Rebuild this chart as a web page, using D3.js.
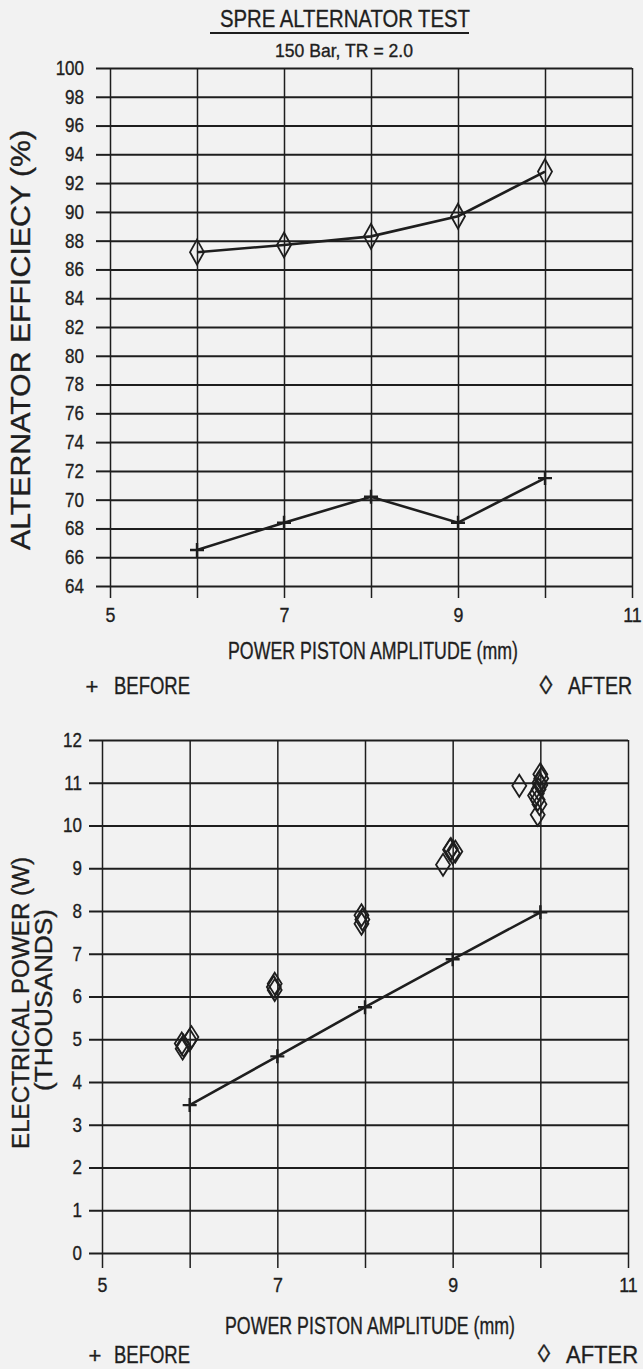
<!DOCTYPE html>
<html><head><meta charset="utf-8">
<script src="https://cdn.jsdelivr.net/npm/d3@7"></script>
<style>
html,body{margin:0;padding:0;background:#f2f2f2;}
svg{display:block;}
text{font-family:"Liberation Sans",Arial,Helvetica,sans-serif;fill:#1e1e1e;stroke:#1e1e1e;stroke-width:0.35;}
</style></head><body>
<svg id="c" width="643" height="1369"></svg>
<script>
// ---------- data ----------
const titleText = "SPRE ALTERNATOR TEST";
const subtitleText = "150 Bar, TR = 2.0";
const xTicks = [5, 6, 7, 8, 9, 10, 11];
const xTickLabels = [5, 7, 9, 11];
const effTicks = [64,66,68,70,72,74,76,78,80,82,84,86,88,90,92,94,96,98,100];
const powTicks = [0,1,2,3,4,5,6,7,8,9,10,11,12];

const effAmp = [6, 7, 8, 9, 10];
const effBefore = [66.5, 68.4, 70.2, 68.4, 71.5];
const effAfter = [87.2, 87.7, 88.3, 89.7, 92.8];

const powBeforeAmp = [6, 7, 8, 9, 10];
const powBefore = [3.46, 4.6, 5.75, 6.87, 7.97];

const powAfterAmp = [5.92, 5.93, 5.91, 6.02, 6.0,
                     6.97, 6.97, 6.96,
                     7.96, 7.97, 7.96,
                     8.97, 9.03, 8.89, 9.0, 8.98,
                     10.0, 10.01, 9.99, 10.0, 9.98, 9.96, 9.94, 9.97, 9.99, 9.97, 9.76];
const powAfter =    [4.78, 4.85, 4.9, 5.05, 4.98,
                     6.15, 6.3, 6.22,
                     7.7, 7.8, 7.9,
                     9.43, 9.39, 9.08, 9.35, 9.45,
                     11.2, 11.1, 11.0, 10.95, 10.85, 10.75, 10.7, 10.6, 10.5, 10.25, 10.93];

// ---------- helpers ----------
const svg = d3.select("#c");
const INK = "#1e1e1e";
const NARROW = 0.85;

function ntext(parent, x, y, str, opts) {
  opts = opts || {};
  const t = parent.append("text")
    .attr("x", x).attr("y", y)
    .attr("text-anchor", opts.anchor || "middle")
    .attr("font-size", opts.size || 22)
    .text(str);
  if (opts.len) t.attr("textLength", opts.len).attr("lengthAdjust", "spacingAndGlyphs");
  if (opts.rotate) t.attr("transform", `rotate(${opts.rotate},${x},${y})`);
  return t;
}
function narrowTicks(g) {
  g.selectAll(".tick text").each(function () {
    const t = d3.select(this);
    const x = +t.attr("x") || 0;
    t.attr("x", x / NARROW).attr("transform", `scale(${NARROW},1)`);
  });
}
function diamondPath(w, h) {
  return `M0,${-h}L${w},0L0,${h}L${-w},0Z`;
}
function plusPath(a) {
  return `M${-a},0H${a}M0,${-a}V${a}`;
}

function chart(cfg) {
  const x = d3.scaleLinear().domain([5, 11]).range([cfg.left, cfg.right]);
  const y = d3.scaleLinear().domain(cfg.yDomain).range([cfg.bottom, cfg.top]);
  const W = cfg.right - cfg.left, H = cfg.bottom - cfg.top;
  const g = svg.append("g");

  const gy = g.append("g").attr("transform", `translate(${cfg.left},0)`)
    .call(d3.axisLeft(y).tickValues(cfg.yTicks).tickSize(cfg.yTickOut).tickPadding(cfg.yPad).tickSizeOuter(0));
  gy.select(".domain").remove();
  gy.selectAll(".tick line").attr("stroke", INK).attr("stroke-width", 2);
  gy.selectAll(".tick text").attr("font-size", 20).attr("fill", INK)
    .attr("font-family", '"Liberation Sans",Arial,sans-serif');
  narrowTicks(gy);
  const gyg = g.append("g").attr("transform", `translate(${cfg.left},0)`)
    .call(d3.axisLeft(y).tickValues(cfg.yTicks).tickSize(-W).tickFormat(""));
  gyg.select(".domain").remove();
  gyg.selectAll(".tick line").attr("stroke", INK).attr("stroke-width", 2);

  const gx = g.append("g").attr("transform", `translate(0,${cfg.bottom})`)
    .call(d3.axisBottom(x).tickValues(xTicks).tickSize(cfg.xTickOut).tickPadding(cfg.xPad)
      .tickFormat(d => xTickLabels.includes(d) ? d : ""));
  gx.select(".domain").remove();
  gx.selectAll(".tick line").attr("stroke", INK).attr("stroke-width", 1.5);
  gx.selectAll(".tick text").attr("font-size", 21).attr("fill", INK)
    .attr("font-family", '"Liberation Sans",Arial,sans-serif');
  narrowTicks(gx);
  const gxg = g.append("g").attr("transform", `translate(0,${cfg.bottom})`)
    .call(d3.axisBottom(x).tickValues(xTicks).tickSize(-H).tickFormat(""));
  gxg.select(".domain").remove();
  gxg.selectAll(".tick line").attr("stroke", INK).attr("stroke-width", 1.5);

  return {x, y, g};
}

// ---------- title ----------
ntext(svg, 345, 27, titleText, {size: 24, len: 250});
svg.append("line").attr("x1", 210).attr("x2", 469).attr("y1", 33).attr("y2", 33)
  .attr("stroke", INK).attr("stroke-width", 2.2);
ntext(svg, 344, 57, subtitleText, {size: 18.5, len: 138});

// ---------- top chart ----------
const chTop = chart({left: 110, right: 632, top: 68, bottom: 586, yDomain: [64, 100], yTicks: effTicks,
  yTickOut: 14, yPad: 12, xTickOut: 12, xPad: 9});
const lineTop = d3.line().x(d => chTop.x(d[0])).y(d => chTop.y(d[1]));
const effB = effAmp.map((a, i) => [a, effBefore[i]]);
const effA = effAmp.map((a, i) => [a, effAfter[i]]);
chTop.g.append("path").attr("d", lineTop(effA)).attr("fill", "none").attr("stroke", INK).attr("stroke-width", 2.6);
chTop.g.append("path").attr("d", lineTop(effB)).attr("fill", "none").attr("stroke", INK).attr("stroke-width", 2.6);
chTop.g.selectAll(".da").data(effA).join("path").attr("class", "da")
  .attr("transform", d => `translate(${chTop.x(d[0])},${chTop.y(d[1])})`)
  .attr("d", diamondPath(7, 12.5)).attr("fill", "none").attr("stroke", INK).attr("stroke-width", 1.8);
chTop.g.selectAll(".pb").data(effB).join("path").attr("class", "pb")
  .attr("transform", d => `translate(${chTop.x(d[0])},${chTop.y(d[1])})`)
  .attr("d", plusPath(7)).attr("fill", "none").attr("stroke", INK).attr("stroke-width", 2.4);

ntext(svg, 21, 340, "ALTERNATOR EFFICIECY (%)", {size: 27, len: 420, rotate: -90}).attr("dy", "0.35em");
ntext(svg, 373, 659, "POWER PISTON AMPLITUDE (mm)", {size: 23, len: 290});
ntext(svg, 92, 694, "+", {size: 22});
ntext(svg, 114, 694, "BEFORE", {size: 23, anchor: "start", len: 76});
ntext(svg, 546, 694, "\u25CA", {size: 26});
ntext(svg, 568, 694, "AFTER", {size: 23, anchor: "start", len: 64});

// ---------- bottom chart ----------
const chBot = chart({left: 102, right: 628, top: 740, bottom: 1253, yDomain: [0, 12], yTicks: powTicks,
  yTickOut: 13, yPad: 7, xTickOut: 15, xPad: 9});
const lineBot = d3.line().x(d => chBot.x(d[0])).y(d => chBot.y(d[1]));
const powB = powBeforeAmp.map((a, i) => [a, powBefore[i]]);
const powA = powAfterAmp.map((a, i) => [a, powAfter[i]]);
chBot.g.append("path").attr("d", lineBot(powB)).attr("fill", "none").attr("stroke", INK).attr("stroke-width", 2.6);
chBot.g.selectAll(".pb").data(powB).join("path").attr("class", "pb")
  .attr("transform", d => `translate(${chBot.x(d[0])},${chBot.y(d[1])})`)
  .attr("d", plusPath(7)).attr("fill", "none").attr("stroke", INK).attr("stroke-width", 2.4);
chBot.g.selectAll(".da").data(powA).join("path").attr("class", "da")
  .attr("transform", d => `translate(${chBot.x(d[0])},${chBot.y(d[1])})`)
  .attr("d", diamondPath(7, 11)).attr("fill", "none").attr("stroke", INK).attr("stroke-width", 1.8);

ntext(svg, 21, 1003, "ELECTRICAL POWER (W)", {size: 23, len: 292, rotate: -90}).attr("dy", "0.35em");
ntext(svg, 44, 1000, "(THOUSANDS)", {size: 23, len: 182, rotate: -90}).attr("dy", "0.35em");
ntext(svg, 370, 1334, "POWER PISTON AMPLITUDE (mm)", {size: 23, len: 290});
ntext(svg, 95, 1363, "+", {size: 22});
ntext(svg, 114, 1363, "BEFORE", {size: 23, anchor: "start", len: 76});
ntext(svg, 544, 1362, "\u25CA", {size: 25});
ntext(svg, 566, 1363, "AFTER", {size: 23, anchor: "start", len: 72});
</script>
</body></html>
